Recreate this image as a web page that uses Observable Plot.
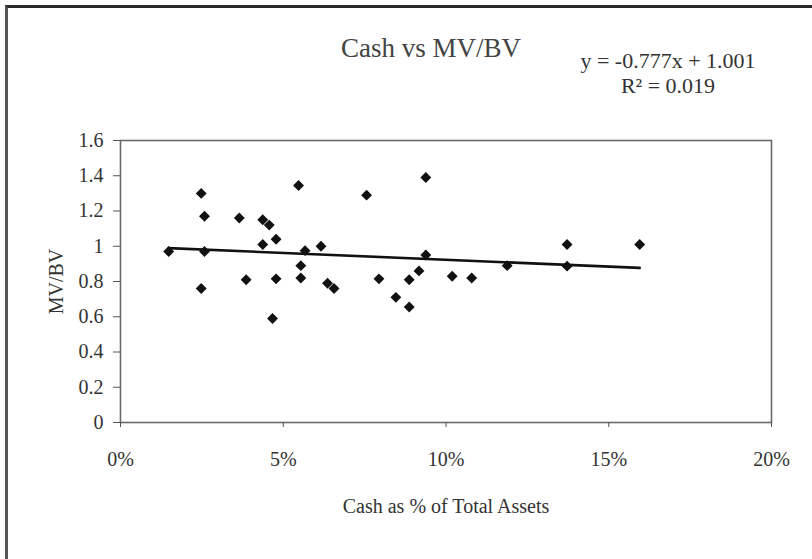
<!DOCTYPE html>
<html>
<head>
<meta charset="utf-8">
<script src="https://cdn.jsdelivr.net/npm/d3@7"></script>
<script src="https://cdn.jsdelivr.net/npm/@observablehq/plot@0.6"></script>
<style>
  html, body { margin: 0; padding: 0; background: #fff; overflow: hidden; }
  #wrap { position: relative; width: 812px; height: 559px; }
  #border { position: absolute; left: 5px; top: 5px; width: 900px; height: 900px;
            border-top: 3px solid #2a2a2a; border-left: 3px solid #555; pointer-events: none; }
  svg text { font-family: "Liberation Serif", "Times New Roman", serif; }
</style>
</head>
<body>
<div id="wrap"><div id="border"></div></div>
<script>
// Cash as share of total assets (fraction)
const cashPct = [
  0.0148, 0.0248, 0.0258, 0.0258, 0.0248, 0.0365, 0.0386, 0.0437, 0.0457, 0.0437,
  0.0478, 0.0467, 0.0478, 0.0547, 0.0554, 0.0554, 0.0567, 0.0616, 0.0636, 0.0656,
  0.0756, 0.0794, 0.0846, 0.0887, 0.0887, 0.0917, 0.0938, 0.0938, 0.1019, 0.1079,
  0.1188, 0.1372, 0.1372, 0.1595
];
// MV/BV ratio
const mvbv = [
  0.97, 1.30, 1.17, 0.97, 0.76, 1.16, 0.81, 1.15, 1.12, 1.01,
  1.04, 0.59, 0.815, 1.345, 0.89, 0.82, 0.975, 1.00, 0.79, 0.76,
  1.29, 0.815, 0.71, 0.81, 0.655, 0.86, 1.39, 0.95, 0.83, 0.82,
  0.89, 1.01, 0.887, 1.01
];
const slope = -0.777;
const intercept = 1.001;
const r2 = 0.019;
const xTicks = [0, 0.05, 0.10, 0.15, 0.20];
const yTicks = [0, 0.2, 0.4, 0.6, 0.8, 1.0, 1.2, 1.4, 1.6];
const titleText = "Cash vs MV/BV";
const xLabel = "Cash as % of Total Assets";
const yLabel = "MV/BV";

const points = cashPct.map((x, i) => ({x, y: mvbv[i]}));
const xMin = d3.min(cashPct), xMax = d3.max(cashPct);
const trend = [xMin, xMax].map(x => ({x, y: slope * x + intercept}));
const eqText = `y = ${slope}x + ${intercept.toFixed(3)}\nR\u00b2 = ${r2.toFixed(3)}`;

const chart = Plot.plot({
  width: 812,
  height: 559,
  marginLeft: 120,
  marginRight: 41,
  marginTop: 140,
  marginBottom: 137,
  style: {background: "transparent", color: "#333", fontFamily: "Liberation Serif, serif"},
  x: {domain: [0, 0.2]},
  y: {domain: [0, 1.6]},
  marks: [
    Plot.frame({stroke: "#6a6a6a", strokeWidth: 1.6}),
    Plot.axisY({ticks: yTicks, tickFormat: d => String(+d.toFixed(1)), tickSize: 7, tickPadding: 10,
      fontSize: 20, label: yLabel, labelAnchor: "center", labelArrow: "none", labelOffset: 72,
      stroke: "#555"}),
    Plot.axisX({ticks: xTicks, tickFormat: d3.format(".0%"), tickSize: 5, tickPadding: 24,
      fontSize: 20, label: xLabel, labelAnchor: "center", labelArrow: "none", labelOffset: 90,
      stroke: "#555"}),
    Plot.line(trend, {x: "x", y: "y", stroke: "#111", strokeWidth: 2.6}),
    Plot.dot(points, {x: "x", y: "y", symbol: "diamond2", r: 4.9, fill: "#111", stroke: "none"}),
    Plot.text([titleText], {frameAnchor: "top", dx: -15, dy: -92, text: d => d, fontSize: 27,
      fill: "#444", lineAnchor: "middle"}),
    Plot.text([eqText], {frameAnchor: "top", dx: 222, dy: -68, text: d => d, fontSize: 22,
      fill: "#333", lineAnchor: "middle", lineHeight: 1.15})
  ]
});
document.getElementById("wrap").prepend(chart);
</script>
</body>
</html>
